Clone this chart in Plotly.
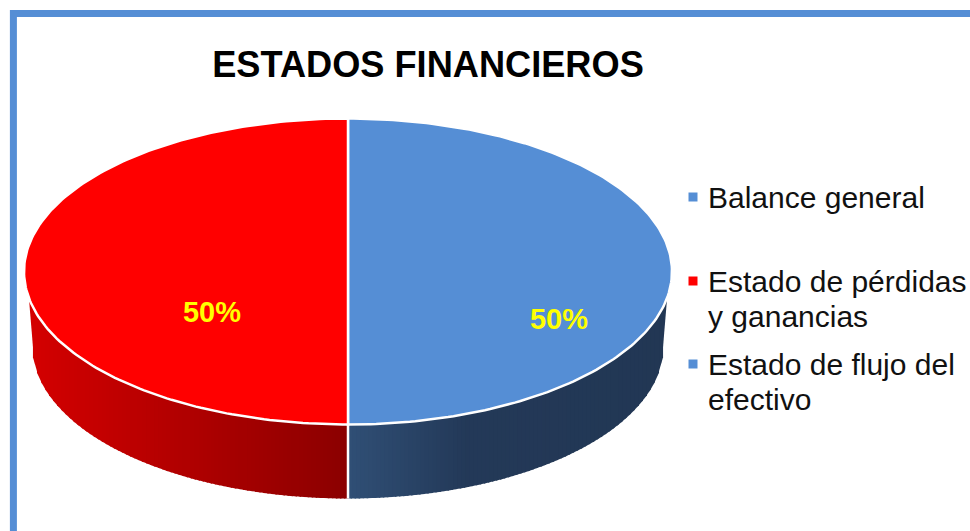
import math
import plotly.graph_objects as go

# ---- data ----
TITLE = "ESTADOS FINANCIEROS"
CATEGORIES = ["Balance general", "Estado de pérdidas y ganancias", "Estado de flujo del efectivo"]
LEGEND_LINES = [["Balance general"], ["Estado de pérdidas", "y ganancias"], ["Estado de flujo del", "efectivo"]]
VALUES = [50, 50, 0]
COLORS = ["#558ed5", "#ff0000", "#558ed5"]
LABEL_PX = [(559, 322), (212, 315), None]

# ---- geometry / style (pixels) ----
W, H = 970, 531
CX, CY, RX, RY = 348, 271.5, 324, 153
DEPTH = 74
RX_BOTTOM = 316
SIDE_START_Y = 298
STRIP = 4
FONT = "Liberation Sans, Arial, sans-serif"
FRAME = "#558ed5"
LEGEND_MARK_X, LEGEND_TEXT_X = 693, 709
LEGEND_ROW_Y = [197, 281, 364]
LEGEND_LINE_H = 35
SIDE_STOPS = {
    "#ff0000": [(0.0, (139, 0, 0)), (1.0, (212, 0, 0))],
    "#558ed5": [(0.0, (48, 79, 117)), (0.37, (35, 57, 88)), (1.0, (34, 55, 84))],
}

total = sum(VALUES)
fig = go.Figure()


def side_colour(stops, t):
    for (t0, c0), (t1, c1) in zip(stops, stops[1:]):
        if t <= t1:
            f = (t - t0) / (t1 - t0)
            return "rgb(%d,%d,%d)" % tuple(round(a + (b - a) * f) for a, b in zip(c0, c1))
    return "rgb(%d,%d,%d)" % stops[-1][1]


def top_y(dx):
    return CY + RY * math.sqrt(max(0.0, 1 - (dx / RX) ** 2))


DX_START = RX * math.sqrt(1 - ((SIDE_START_Y - CY) / RY) ** 2)


def bottom_y(dx):
    base = CY + DEPTH
    if abs(dx) <= RX_BOTTOM:
        return base + RY * math.sqrt(1 - (dx / RX_BOTTOM) ** 2)
    return base + (abs(dx) - RX_BOTTOM) / (DX_START - RX_BOTTOM) * (SIDE_START_Y - base)


def px_at(theta):
    return CX + RX * math.sin(theta), CY - RY * math.cos(theta)


# slice spans, clockwise from 12 o'clock
start = 0.0
spans = []
for v in VALUES:
    sweep = 2 * math.pi * v / total
    spans.append((start, start + sweep))
    start += sweep

# side wall of the front half of each slice: overlapping strips painted outer-to-inner
for (a0, a1), col in zip(spans, COLORS):
    f0, f1 = max(a0, math.pi / 2), min(a1, 3 * math.pi / 2)
    if f1 <= f0:
        continue
    d0, d1 = RX * math.sin(f0), RX * math.sin(f1)
    lo, hi = max(min(d0, d1), -DX_START), min(max(d0, d1), DX_START)
    n = max(1, int((hi - lo) / STRIP))
    edges = [lo + (hi - lo) * i / n for i in range(n + 1)]
    cells = list(zip(edges[:-1], edges[1:]))
    for l, r in sorted(cells, key=lambda c: -abs((c[0] + c[1]) / 2)):
        t = abs((l + r) / 2) / DX_START
        c = side_colour(SIDE_STOPS[col], t)
        # extend the strip under its inner neighbour so no seam shows
        if abs(r) < abs(l):
            r2 = r + (1.5 if l < 0 else -1.5)
            r2 = max(min(r2, hi), lo)
            l2 = l
        else:
            l2 = l + (-1.5 if r > 0 else 1.5)
            l2 = max(min(l2, hi), lo)
            r2 = r
        fig.add_trace(go.Scatter(
            x=[CX + l2, CX + r2, CX + r2, CX + l2, CX + l2],
            y=[top_y(l2), top_y(r2), bottom_y(r2), bottom_y(l2), top_y(l2)],
            mode="lines", fill="toself", fillcolor=c,
            line=dict(width=0), hoverinfo="skip", showlegend=False))

# top face of each slice
for (a0, a1), col in zip(spans, COLORS):
    if a1 <= a0:
        continue
    n = 180
    pts = [px_at(a0 + (a1 - a0) * i / n) for i in range(n + 1)]
    xs = [CX] + [p[0] for p in pts] + [CX]
    ys = [CY] + [p[1] for p in pts] + [CY]
    fig.add_trace(go.Scatter(
        x=xs, y=ys, mode="lines", fill="toself", fillcolor=col,
        line=dict(color="white", width=2.5), hoverinfo="skip", showlegend=False))

# white seams on the side wall, at slice boundaries on the front
for a0, a1 in spans:
    if a1 > a0 and math.pi / 2 < a1 < 3 * math.pi / 2:
        dx = RX * math.sin(a1)
        fig.add_trace(go.Scatter(
            x=[CX + dx, CX + dx], y=[top_y(dx), bottom_y(dx)], mode="lines",
            line=dict(color="white", width=2.5), hoverinfo="skip", showlegend=False))

# percentage labels
for v, pos in zip(VALUES, LABEL_PX):
    if pos is None:
        continue
    fig.add_trace(go.Scatter(
        x=[pos[0]], y=[pos[1]], mode="text", text=["%d%%" % round(100 * v / total)],
        textposition="middle center",
        textfont=dict(family=FONT, size=29, color="#ffff00", weight="bold"),
        hoverinfo="skip", showlegend=False))

# hand-set legend: marker aligned on the first text line of each entry
annotations = []
for name, col, lines, row_y in zip(CATEGORIES, COLORS, LEGEND_LINES, LEGEND_ROW_Y):
    fig.add_trace(go.Scatter(
        x=[LEGEND_MARK_X], y=[row_y], mode="markers", name=name,
        marker=dict(symbol="square", size=9, color=col, line=dict(width=0)),
        hoverinfo="name", showlegend=False))
    for j, line in enumerate(lines):
        annotations.append(dict(
            x=LEGEND_TEXT_X, y=row_y + j * LEGEND_LINE_H, xref="x", yref="y",
            text=line, showarrow=False, xanchor="left", yanchor="middle",
            xshift=-3, align="left",
            font=dict(family=FONT, size=30, color="#111111")))

fig.update_layout(
    width=W, height=H,
    margin=dict(l=0, r=0, t=0, b=0, pad=0),
    paper_bgcolor="white", plot_bgcolor="white",
    showlegend=False,
    annotations=annotations,
    title=dict(text=TITLE, x=428 / W, y=1 - 64 / H, xanchor="center", yanchor="middle",
               font=dict(family=FONT, size=36.2, color="black", weight="bold")),
    xaxis=dict(range=[0, W], visible=False, fixedrange=True),
    yaxis=dict(range=[H, 0], visible=False, fixedrange=True),
    shapes=[dict(type="rect", xref="x", yref="y", x0=13.4, y0=13.5, x1=W + 50, y1=H + 50,
                 line=dict(color=FRAME, width=7), layer="above")],
)

fig.write_html("out.html", config=dict(displayModeBar=False),
               post_script="document.body.style.margin='0';document.body.style.overflow='hidden';")
